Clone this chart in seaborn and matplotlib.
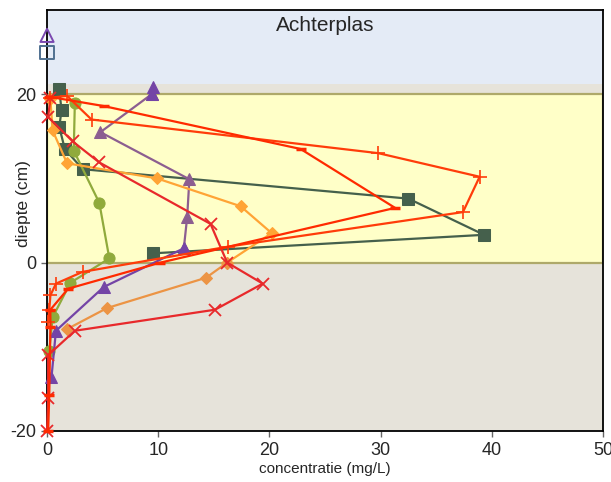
import matplotlib
matplotlib.use("Agg")
import matplotlib.pyplot as plt
import matplotlib.patches as mpatches
import seaborn as sns
import pandas as pd

# ---------------- data ----------------
sq_x = [1.1, 1.3, 1.1, 1.6, 3.2, 32.5, 39.3, 9.5]
sq_y = [20.6, 18.1, 16.1, 13.5, 11.1, 7.6, 3.3, 1.1]

circ_x = [2.5, 2.4, 4.7, 5.6, 2.1, 0.5, 0.2]
circ_y = [19.0, 13.3, 7.1, 0.5, -2.4, -6.5, -10.5]

mauve_x = [9.4, 4.8, 12.8, 12.6, 12.3]
mauve_y = [20.0, 15.5, 9.9, 5.4, 1.7]

violet_top_x = [9.5, 9.4]
violet_top_y = [20.9, 20.0]
violet_x = [12.3, 5.1, 0.8, 0.4]
violet_y = [1.7, -2.9, -8.1, -13.6]

dia_x = [0.3, 0.5, 1.8, 9.9, 17.4, 20.2, 16.2]
dia_y = [19.4, 15.7, 11.8, 10.0, 6.7, 3.5, 0.0]
dia2_x = [16.2, 14.3, 5.4, 1.8]
dia2_y = [0.0, -1.8, -5.4, -7.9]

xm_x = [0.3, 0.1, 2.3, 4.7, 14.7, 16.2, 19.4, 15.1, 2.5, 0.1, 0.1, 0.0]
xm_y = [19.5, 17.3, 14.4, 11.9, 4.6, 0.0, -2.5, -5.6, -8.1, -11.0, -16.1, -20.0]

plus_x = [0.3, 1.8, 4.0, 29.8, 38.9, 37.4, 16.3, 3.2, 0.8, 0.3, 0.2, 0.1]
plus_y = [19.6, 19.8, 17.0, 13.0, 10.2, 6.0, 1.9, -1.1, -2.5, -3.9, -5.6, -7.1]

dash_x = [0.2, 5.1, 22.8, 31.3, 10.2, 1.9, 0.3, 0.3, 0.2, 0.1]
dash_y = [19.7, 18.6, 13.5, 6.5, 0.0, -3.1, -5.6, -7.6, -15.7, -20.0]

surf_sq_x, surf_sq_y = [0.0], [25.0]
surf_tri_x, surf_tri_y = [0.0], [27.0]

title = "Achterplas"
x_ticks = [0, 10, 20, 30, 40, 50]
y_ticks = [-20, 0, 20]

# ---------------- style ----------------
sns.set_style("ticks")
plt.rcParams['font.family'] = ['Liberation Sans', 'DejaVu Sans']
plt.rcParams['axes.unicode_minus'] = False

fig = plt.figure(figsize=(6.11, 4.82), dpi=100)
ax = fig.add_axes([0.077, 0.106, 0.91, 0.873])
ax.set_facecolor("#e6e3da")
ax.set_xlim(0, 50)
ax.set_ylim(-20, 30)

# background bands
ax.add_patch(mpatches.Rectangle((0, 21.2), 50, 8.8, facecolor="#e4ebf6",
                                edgecolor="none", zorder=0))
ax.add_patch(mpatches.Rectangle((0, 0), 50, 20, facecolor="#ffffc8",
                                edgecolor="#aea96a", linewidth=1.6, zorder=0.5))

series = [
    (sq_x, sq_y, "#45604c", "s", 8, 1.6, {}),
    (circ_x, circ_y, "#90aa3c", "o", 8, 1.6, {}),
    (mauve_x, mauve_y, "#8c5e90", "^", 8, 1.6, {}),
    (violet_top_x, violet_top_y, "#7444a6", "^", 8, 1.6, {}),
    (violet_x, violet_y, "#7444a6", "^", 8, 1.6, {}),
    (dia_x, dia_y, "#ffa435", "D", 6, 1.6, {}),
    (dia2_x, dia2_y, "#ec9444", "D", 6, 1.6, {}),
    (xm_x, xm_y, "#e8292b", "x", 8, 1.6, {"markeredgewidth": 1.3}),
    (plus_x, plus_y, "#ff3c0a", "+", 10, 1.6, {"markeredgewidth": 1.2}),
    (dash_x, dash_y, "#ff2a00", "_", 7, 1.6, {"markeredgewidth": 2.5}),
]

for xs, ys, col, mk, ms, lw, extra in series:
    sns.lineplot(x=xs, y=ys, ax=ax, sort=False, estimator=None, color=col,
                 marker=mk, markersize=ms, linewidth=lw, markeredgecolor=col,
                 markerfacecolor=col, clip_on=False, zorder=3, **extra)

sns.scatterplot(x=surf_sq_x, y=surf_sq_y, ax=ax, marker="s", s=90,
                facecolor="none", edgecolor="#4f7090", linewidth=1.4,
                clip_on=False, zorder=4)
sns.scatterplot(x=surf_tri_x, y=surf_tri_y, ax=ax, marker="^", s=90,
                facecolor="none", edgecolor="#7a48b0", linewidth=1.4,
                clip_on=False, zorder=4)

ax.set_xticks(x_ticks)
ax.set_yticks(y_ticks)
ax.tick_params(axis="both", labelsize=13, length=4, width=1, color="#666666")
ax.tick_params(axis="x", pad=4)
ax.set_xlabel("concentratie (mg/L)", fontsize=11, labelpad=2)
ax.set_ylabel("diepte (cm)", fontsize=12.5)
ax.yaxis.set_label_coords(-0.028, 0.54)
ax.text(25, 28.2, title, ha="center", va="center", fontsize=15)

for sp in ax.spines.values():
    sp.set_visible(True)
    sp.set_color("black")
    sp.set_linewidth(1.3)

fig.savefig("out.png", dpi=100)
